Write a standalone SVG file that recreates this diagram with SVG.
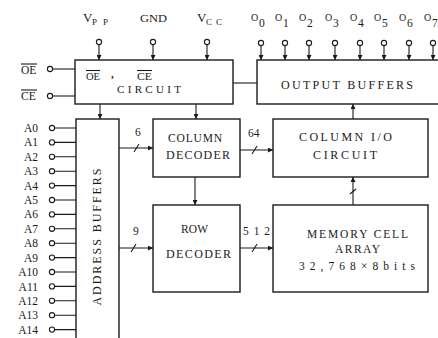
<svg xmlns="http://www.w3.org/2000/svg" width="438" height="338" viewBox="0 0 438 338">
<style>
.box{fill:none;stroke:#1a1a1a;stroke-width:1.4}
.ln{fill:none;stroke:#1a1a1a;stroke-width:1.1}
.pin{fill:#fff;stroke:#1a1a1a;stroke-width:1.1}
.t{font-family:"Liberation Serif","DejaVu Serif",serif;fill:#1a1a1a;font-size:12px}
.s{font-family:"Liberation Serif","DejaVu Serif",serif;fill:#1a1a1a;font-size:11.5px}
.m{text-anchor:middle}
.e{text-anchor:end}
</style>
<defs>
<marker id="ah" viewBox="0 0 8 8" refX="8" refY="4" markerWidth="5" markerHeight="5" orient="auto" markerUnits="userSpaceOnUse">
<path d="M0,0 L8,4 L0,8 z" fill="#1a1a1a"/>
</marker>
</defs>
<rect width="438" height="338" fill="#fff"/>

<g id="oe-ce-circuit">
<rect class="box" x="75" y="60" width="158" height="44"/>
<text class="t" x="86" y="80" textLength="14" lengthAdjust="spacingAndGlyphs" style="font-size:10.5px">OE</text>
<line class="ln" x1="86" y1="70.5" x2="100" y2="70.5"/>
<text class="t" x="111" y="78" style="font-size:11px;font-weight:bold">,</text>
<text class="t" x="137" y="80" textLength="15" lengthAdjust="spacingAndGlyphs" style="font-size:10.5px">CE</text>
<line class="ln" x1="137" y1="70.5" x2="152" y2="70.5"/>
<text class="t" x="117" y="93" textLength="64" lengthAdjust="spacing" style="font-size:11px">CIRCUIT</text>
</g>

<g id="output-buffers">
<rect class="box" x="257" y="60" width="190" height="44"/>
<text class="t" x="281" y="89" textLength="132" lengthAdjust="spacing">OUTPUT BUFFERS</text>
</g>

<g id="address-buffers">
<rect class="box" x="76" y="119" width="43" height="230"/>
<text class="t m" transform="translate(101,237) rotate(-90)" textLength="137" lengthAdjust="spacing">ADDRESS BUFFERS</text>
</g>

<g id="column-decoder">
<rect class="box" x="153" y="119" width="87" height="58"/>
<text class="t" x="168" y="142" textLength="54" lengthAdjust="spacing" style="font-size:11.5px">COLUMN</text>
<text class="t" x="166" y="159" textLength="64" lengthAdjust="spacing">DECODER</text>
</g>

<g id="row-decoder">
<rect class="box" x="153" y="205" width="87" height="87"/>
<text class="t" x="181" y="233" textLength="27" lengthAdjust="spacing" style="font-size:11.5px">ROW</text>
<text class="t" x="166" y="258" textLength="65" lengthAdjust="spacing">DECODER</text>
</g>

<g id="column-io-circuit">
<rect class="box" x="273" y="119" width="155" height="58"/>
<text class="t" x="299" y="141" textLength="93" lengthAdjust="spacing">COLUMN I/O</text>
<text class="t" x="313" y="159" textLength="64" lengthAdjust="spacing">CIRCUIT</text>
</g>

<g id="memory-cell-array">
<rect class="box" x="273" y="205" width="155" height="87"/>
<text class="t" x="307" y="238" textLength="101" lengthAdjust="spacing" style="font-size:11.5px">MEMORY CELL</text>
<text class="t" x="335" y="253" textLength="45" lengthAdjust="spacing" style="font-size:11.5px">ARRAY</text>
<text class="t" x="299" y="270" textLength="116" lengthAdjust="spacing" style="font-size:11.5px">32,768×8bits</text>
</g>

<g id="pins-top">
<text class="t" x="83" y="22" style="font-size:13px">V</text><text class="s" x="92" y="25" textLength="16" lengthAdjust="spacing" style="font-size:9px">PP</text>
<text class="t" x="140" y="22" textLength="27" lengthAdjust="spacingAndGlyphs" style="font-size:11px">GND</text>
<text class="t" x="197" y="22" style="font-size:13px">V</text><text class="s" x="206" y="25" textLength="16" lengthAdjust="spacing" style="font-size:9px">CC</text>
<circle class="pin" cx="99" cy="42" r="2.6"/>
<circle class="pin" cx="153" cy="42" r="2.6"/>
<circle class="pin" cx="207" cy="42" r="2.6"/>
<g class="s">
<text x="251" y="21" style="font-size:10px">O</text><text x="259" y="27">0</text>
<text x="275" y="21" style="font-size:10px">O</text><text x="283" y="27">1</text>
<text x="299" y="21" style="font-size:10px">O</text><text x="307" y="27">2</text>
<text x="325" y="21" style="font-size:10px">O</text><text x="333" y="27">3</text>
<text x="350" y="21" style="font-size:10px">O</text><text x="358" y="27">4</text>
<text x="374" y="21" style="font-size:10px">O</text><text x="382" y="27">5</text>
<text x="399" y="21" style="font-size:10px">O</text><text x="407" y="27">6</text>
<text x="424" y="21" style="font-size:10px">O</text><text x="432" y="27">7</text>
</g>
<circle class="pin" cx="261" cy="43" r="2.6"/>
<circle class="pin" cx="285" cy="43" r="2.6"/>
<circle class="pin" cx="309" cy="43" r="2.6"/>
<circle class="pin" cx="335" cy="43" r="2.6"/>
<circle class="pin" cx="360" cy="43" r="2.6"/>
<circle class="pin" cx="384" cy="43" r="2.6"/>
<circle class="pin" cx="409" cy="43" r="2.6"/>
<circle class="pin" cx="433" cy="43" r="2.6"/>
</g>

<g id="pins-left">
<text class="s" x="21" y="74">OE</text>
<line class="ln" x1="21" y1="64" x2="37" y2="64"/>
<text class="s" x="21" y="100">CE</text>
<line class="ln" x1="21" y1="90" x2="37" y2="90"/>
<circle class="pin" cx="50" cy="69" r="2.6"/>
<circle class="pin" cx="50" cy="96" r="2.6"/>
<g class="s e">
<text x="38" y="132">A0</text>
<text x="38" y="146">A1</text>
<text x="38" y="161">A2</text>
<text x="38" y="175">A3</text>
<text x="38" y="190">A4</text>
<text x="38" y="204">A5</text>
<text x="38" y="218">A6</text>
<text x="38" y="233">A7</text>
<text x="38" y="247">A8</text>
<text x="38" y="262">A9</text>
<text x="38" y="276">A10</text>
<text x="38" y="291">A11</text>
<text x="38" y="305">A12</text>
<text x="38" y="319">A13</text>
<text x="38" y="334">A14</text>
</g>
<g>
<circle class="pin" cx="52" cy="128" r="2.6"/>
<circle class="pin" cx="52" cy="142.4" r="2.6"/>
<circle class="pin" cx="52" cy="156.8" r="2.6"/>
<circle class="pin" cx="52" cy="171.2" r="2.6"/>
<circle class="pin" cx="52" cy="185.6" r="2.6"/>
<circle class="pin" cx="52" cy="200" r="2.6"/>
<circle class="pin" cx="52" cy="214.4" r="2.6"/>
<circle class="pin" cx="52" cy="228.8" r="2.6"/>
<circle class="pin" cx="52" cy="243.2" r="2.6"/>
<circle class="pin" cx="52" cy="257.6" r="2.6"/>
<circle class="pin" cx="52" cy="272" r="2.6"/>
<circle class="pin" cx="52" cy="286.4" r="2.6"/>
<circle class="pin" cx="52" cy="300.8" r="2.6"/>
<circle class="pin" cx="52" cy="315.2" r="2.6"/>
<circle class="pin" cx="52" cy="329.6" r="2.6"/>
</g>
</g>

<g id="connectors">
<line class="ln" x1="99" y1="44.6" x2="99" y2="60" marker-end="url(#ah)"/>
<line class="ln" x1="153" y1="44.6" x2="153" y2="60" marker-end="url(#ah)"/>
<line class="ln" x1="207" y1="44.6" x2="207" y2="60" marker-end="url(#ah)"/>
<line class="ln" x1="261" y1="45.6" x2="261" y2="60" marker-end="url(#ah)"/>
<line class="ln" x1="285" y1="45.6" x2="285" y2="60" marker-end="url(#ah)"/>
<line class="ln" x1="309" y1="45.6" x2="309" y2="60" marker-end="url(#ah)"/>
<line class="ln" x1="335" y1="45.6" x2="335" y2="60" marker-end="url(#ah)"/>
<line class="ln" x1="360" y1="45.6" x2="360" y2="60" marker-end="url(#ah)"/>
<line class="ln" x1="384" y1="45.6" x2="384" y2="60" marker-end="url(#ah)"/>
<line class="ln" x1="409" y1="45.6" x2="409" y2="60" marker-end="url(#ah)"/>
<line class="ln" x1="433" y1="45.6" x2="433" y2="60" marker-end="url(#ah)"/>
<line class="ln" x1="52.6" y1="69" x2="75" y2="69"/>
<line class="ln" x1="52.6" y1="96" x2="75" y2="96"/>
<line class="ln" x1="233" y1="83" x2="257" y2="83"/>
<path class="ln" d="M54.6,128H76M54.6,142.4H76M54.6,156.8H76M54.6,171.2H76M54.6,185.6H76M54.6,200H76M54.6,214.4H76M54.6,228.8H76M54.6,243.2H76M54.6,257.6H76M54.6,272H76M54.6,286.4H76M54.6,300.8H76M54.6,315.2H76M54.6,329.6H76"/>
<line class="ln" x1="100" y1="104" x2="100" y2="119" marker-end="url(#ah)"/>
<line class="ln" x1="196" y1="104" x2="196" y2="119" marker-end="url(#ah)"/>
<line class="ln" x1="119" y1="148" x2="153" y2="148" marker-end="url(#ah)"/>
<line class="ln" x1="134" y1="152" x2="139" y2="144"/>
<text class="s" x="135" y="136">6</text>
<line class="ln" x1="119" y1="248" x2="153" y2="248" marker-end="url(#ah)"/>
<line class="ln" x1="131" y1="252" x2="136" y2="244"/>
<text class="s" x="133" y="235">9</text>
<line class="ln" x1="240" y1="150" x2="273" y2="150" marker-end="url(#ah)"/>
<line class="ln" x1="252" y1="154" x2="257" y2="146"/>
<text class="s" x="248" y="137">64</text>
<line class="ln" x1="240" y1="248" x2="273" y2="248" marker-end="url(#ah)"/>
<line class="ln" x1="252" y1="252" x2="257" y2="244"/>
<text class="s" x="243" y="235" textLength="27" lengthAdjust="spacing">512</text>
<line class="ln" x1="195" y1="177" x2="195" y2="205" marker-end="url(#ah)"/>
<line class="ln" x1="353" y1="205" x2="353" y2="177" marker-end="url(#ah)"/>
<line class="ln" x1="350" y1="194" x2="356" y2="189"/>
<line class="ln" x1="353" y1="119" x2="353" y2="104" marker-end="url(#ah)"/>
</g>
</svg>
